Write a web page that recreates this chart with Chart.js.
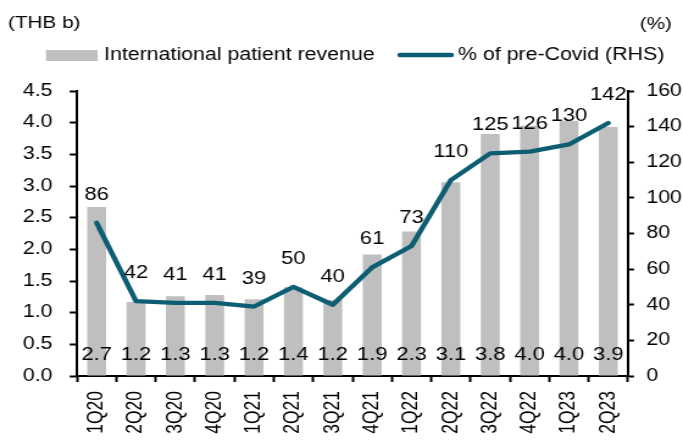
<!DOCTYPE html>
<html>
<head>
<meta charset="utf-8">
<script src="https://cdn.jsdelivr.net/npm/chart.js@4"></script>
<style>
  html, body { margin: 0; padding: 0; background: #fff; overflow: hidden; }
  /* chart drawn narrower, then stretched sideways like the reference */
  #wrap { width: 560px; height: 448px; position: relative; transform: scaleX(1.2196); transform-origin: 0 0; }
</style>
</head>
<body>
<div id="wrap"><canvas id="mainChart"></canvas></div>
<script>
// data
const quarters = ["1Q20", "2Q20", "3Q20", "4Q20", "1Q21", "2Q21", "3Q21", "4Q21", "1Q22", "2Q22", "3Q22", "4Q22", "1Q23", "2Q23"];
const revenue = [2.67, 1.17, 1.26, 1.28, 1.21, 1.4, 1.2, 1.92, 2.28, 3.06, 3.82, 3.95, 4.03, 3.93];
const revenueLabels = ["2.7", "1.2", "1.3", "1.3", "1.2", "1.4", "1.2", "1.9", "2.3", "3.1", "3.8", "4.0", "4.0", "3.9"];
const preCovidPct = [86, 42, 41, 41, 39, 50, 40, 61, 73, 110, 125, 126, 130, 142];

const barColor = "#bfbfbf";
const lineColor = "#0e5e73";
const fontFamily = "'Liberation Sans', Arial, sans-serif";

document.addEventListener("DOMContentLoaded", function () {
  const ctx = document.getElementById("mainChart").getContext("2d");

  // value labels, axis titles and legend
  const extrasPlugin = {
    id: "extras",
    afterDatasetsDraw(chart) {
      const c = chart.ctx;
      c.save();
      c.fillStyle = "#000";
      c.font = "18px " + fontFamily;
      c.textAlign = "center";
      c.textBaseline = "middle";

      chart.getDatasetMeta(0).data.forEach(function (bar, i) {
        c.fillText(revenueLabels[i], bar.x, bar.base - 20);
      });
      chart.getDatasetMeta(1).data.forEach(function (pt, i) {
        c.fillText(String(preCovidPct[i]), pt.x, pt.y - 28);
      });

      c.font = "17px " + fontFamily;
      c.textAlign = "left";
      c.fillText("(THB b)", 6.5, 23);
      c.textAlign = "right";
      c.fillText("(%)", 551, 24);

      // legend
      c.font = "17.5px " + fontFamily;
      c.fillStyle = barColor;
      c.fillRect(37.7, 50, 42.4, 11);
      c.fillStyle = "#000";
      c.textAlign = "left";
      c.fillText("International patient revenue", 85.3, 55);
      c.strokeStyle = lineColor;
      c.lineWidth = 4.5;
      c.lineCap = "round";
      c.beginPath();
      c.moveTo(328, 55);
      c.lineTo(370, 55);
      c.stroke();
      c.fillText("% of pre-Covid (RHS)", 375.5, 55);
      c.restore();
    },
  };

  const config = {
    type: "bar",
    data: {
      labels: quarters,
      datasets: [
        {
          label: "International patient revenue",
          data: revenue,
          backgroundColor: barColor,
          barPercentage: 0.48,
          categoryPercentage: 1.0,
          yAxisID: "y",
          order: 2,
        },
        {
          type: "line",
          label: "% of pre-Covid (RHS)",
          data: preCovidPct,
          borderColor: lineColor,
          backgroundColor: lineColor,
          borderWidth: 4.3,
          borderJoinStyle: "round",
          borderCapStyle: "round",
          pointRadius: 0,
          tension: 0,
          yAxisID: "y2",
          order: 1,
        },
      ],
    },
    options: {
      responsive: true,
      maintainAspectRatio: false,
      animation: false,
      layout: { padding: { top: 91, left: 0, right: 0, bottom: 0 } },
      plugins: {
        legend: { display: false },
        tooltip: { enabled: false },
      },
      scales: {
        x: {
          grid: { drawOnChartArea: false, color: "#000", tickLength: 6, tickWidth: 2, offset: true },
          border: { color: "#000", width: 2 },
          ticks: { color: "#000", font: { size: 17.5, family: fontFamily }, minRotation: 90, maxRotation: 90, padding: 9 },
          afterFit(scale) { scale.height = 72; },
        },
        y: {
          position: "left",
          min: 0,
          max: 4.5,
          grid: { drawOnChartArea: false, color: "#000", tickLength: 6, tickWidth: 2 },
          border: { color: "#000", width: 2 },
          ticks: {
            stepSize: 0.5,
            color: "#000",
            font: { size: 17.5, family: fontFamily },
            padding: 14,
            callback: function (v) { return v.toFixed(1); },
          },
          afterFit(scale) { scale.width = 63.1; },
        },
        y2: {
          position: "right",
          min: 0,
          max: 160,
          grid: { drawOnChartArea: false, color: "#000", tickLength: 5, tickWidth: 2 },
          border: { color: "#000", width: 2 },
          ticks: { stepSize: 20, color: "#000", font: { size: 17.5, family: fontFamily }, padding: 10 },
          afterFit(scale) { scale.width = 45.1; },
        },
      },
    },
    plugins: [extrasPlugin],
  };

  new Chart(ctx, config);
});
</script>
</body>
</html>
